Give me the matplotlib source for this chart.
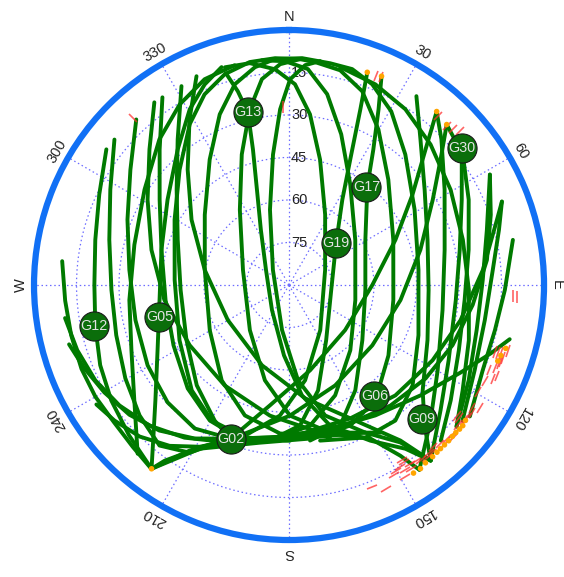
import numpy as np
import matplotlib
matplotlib.use("Agg")
import matplotlib.pyplot as plt
from matplotlib.markers import MarkerStyle
from matplotlib.transforms import Affine2D

plt.rcParams['font.family'] = ['Liberation Sans', 'DejaVu Sans']

# ---- satellite sky tracks: azimuth (deg, clockwise from N) / elevation (deg) ----
v1_az = [276, 266, 257, 248, 240, 232, 224, 217]
v1_el = [9.5, 10.8, 11.1, 11.0, 11.1, 11.5, 10.6, 9.0]
v2_az = [306.6, 295.5, 283.1, 270, 258.0, 247.0, 237.0, 226.7, 216.8]
v2_el = [9.7, 15.8, 19.8, 21.3, 20.1, 17.6, 15.2, 12.5, 9.0]
v3_az = [309.8, 298.1, 284.1, 268.4, 253.8, 240.3, 228.9, 218.9, 210.7, 200.8]
v3_el = [9.8, 18.5, 24.6, 27.3, 26.5, 23.5, 20.0, 17.2, 21.2, 32.0]
v4_az = [317.3, 306.0, 292.0, 275.4, 257.1, 240.4, 226.0, 213.3, 200.8, 185.2, 168.4, 152.7, 144.7, 141.1]
v4_el = [10.5, 20.8, 28.5, 33.4, 34.4, 32.6, 30.4, 29.4, 32.0, 34.9, 35.4, 31.4, 21.9, 10.4]
v5_az = [326.0, 316.3, 303.4, 285.4, 263.0, 242.4, 224.4, 210.3, 197.8, 181.5, 164.0, 146.5, 130.0, 117.0, 108.7, 103.8]
v5_el = [10.1, 23.9, 35.3, 43.3, 46.1, 44.0, 38.9, 34.6, 33.1, 36.5, 37.3, 34.8, 29.4, 22.0, 14.8, 9.8]
v6_az = [331.6, 322.6, 310.3, 292.1, 267.3, 241.7, 222.6, 208.7, 200.8]
v6_el = [10.2, 25.3, 38.0, 47.6, 51.7, 48.9, 41.9, 35.4, 32.0]
h1_az = [342.8, 337.2, 330.5, 320.6, 305.1, 285.4, 263.4, 243.6, 229.2, 222.0, 216.8]
h1_el = [9.5, 13.2, 18.8, 28.1, 37.6, 43.3, 44.0, 38.2, 27.7, 18.5, 9.0]
n1_az = [346.1, 337.7, 328.8, 318.3, 303.4, 284.6, 264.6, 247.5, 233.3, 221.9]
n1_el = [10.1, 11.5, 15.5, 21.2, 28.9, 33.6, 33.4, 29.8, 21.9, 10.0]
a1_az = [179.6, 196.1, 209.7, 222.7, 243.2, 272.5, 299.7, 316.5, 328.3, 336.1, 343.1, 350.0,
         356.5, 362.8, 366.7, 373.4, 380.7, 389.9, 403.3, 426.6, 458.2, 485.3, 503.2, 516.5,
         532.2, 550.5, 568.6, 576.8]
a1_el = [35.1, 34.0, 34.9, 39.4, 46.7, 49.6, 43.5, 33.9, 23.3, 16.4, 12.2, 10.1,
         9.8, 10.2, 10.8, 12.1, 16.9, 26.7, 38.9, 49.9, 52.8, 47.0, 39.1, 35.9,
         35.3, 33.4, 24.2, 9.0]
a2_az = [164.8, 183.5, 198.7, 215.2, 240.3, 280.1, 309.8, 327.7, 337.9, 344.9, 351.1, 356.4,
         363.3, 370.5, 376.3, 382.5, 390.5, 401.7, 419.0, 443.4, 471.2, 489.1, 501.9, 513.4, 528.7]
a2_el = [34.6, 37.5, 41.4, 48.8, 57.8, 59.8, 51.3, 37.6, 25.0, 16.6, 12.2, 10.1,
         9.8, 10.4, 10.6, 13.3, 18.9, 28.3, 38.3, 44.0, 41.0, 33.8, 29.2, 29.8, 34.0]
n2_az = [13.2, 23.3, 33.5, 45.2, 59.5, 75.4, 91.6, 107.1, 121.3, 130.2]
n2_el = [11.0, 12.9, 15.6, 19.6, 23.8, 26.6, 26.5, 23.6, 18.3, 12.6]
h4_az = [2.8, -2.3, -7.5, -12.6, -19.9, -33.2, 288.1, 220.9, 194.2, 179.6, 164.4, 148.2]
h4_el = [10.2, 12.0, 16.7, 26.5, 41.0, 58.3, 72.9, 68.9, 55.3, 43.9, 35.9, 28.7]
h5_az = [343.4, 345.2, 346.6, 345.1, 341.4, 333.0, 303.1, 214.2, 184.1, 173.3, 163.7, 152.4, 144.6, 141.1]
h5_el = [12.0, 19.3, 27.4, 40.5, 54.5, 68.1, 80.3, 79.3, 65.1, 50.7, 38.3, 28.0, 19.1, 10.4]
h6_az = [7.9, 4.2, 0.3, -2.9, -7.0, -14.2, -46.8, 188.8, 174.6, 164.5, 152.7]
h6_el = [10.2, 12.2, 17.4, 27.9, 43.6, 62.6, 82.2, 73.9, 56.2, 42.2, 31.4]
k1_az = [-16.4, -10.0, -3.7, 1.7, 7.0, 13.9, 27.2, 67.4, 145.4, 170.4, 184.0, 196.3, 208.8, 215.3, 216.8]
k1_el = [9.9, 10.5, 13.7, 19.1, 29.3, 44.4, 62.1, 76.2, 70.6, 55.9, 43.8, 34.6, 24.5, 14.0, 9.0]
k2_az = [-6.9, -1.0, 5.0, 11.3, 19.1, 31.4, 55.7, 102.8, 136.8, 157.3, 171.5, 187.0, 200.8]
k2_el = [10.1, 11.0, 13.5, 21.3, 33.7, 48.5, 61.7, 66.0, 58.4, 47.8, 39.8, 34.7, 32.0]
k5_az = [23.9, 27.0, 31.9, 38.5, 59.4, 93.8, 127.0, 147.8, 160.0, 172.3]
k5_el = [9.4, 20.4, 33.7, 45.6, 58.7, 63.0, 57.6, 46.1, 37.2, 34.6]
k6_az = [20.2, 22.1, 26.0, 32.0, 48.2, 96.8, 146.1, 164.6, 175.5, 187.0]
k6_el = [10.0, 23.1, 40.7, 54.5, 67.7, 75.0, 66.5, 51.4, 40.3, 34.7]
k7_az = [34.0, 42.1, 54.9, 72.0, 92.1, 111.7, 128.3, 136.0, 141.1]
k7_el = [9.6, 20.8, 31.5, 38.6, 40.7, 37.4, 29.9, 21.1, 10.4]
u2_az = [205.5, 190.6, 173.8, 155.4, 136.1, 117.7, 101.6, 85.6, 72.6, 68.6]
u2_el = [29.1, 34.1, 37.6, 38.2, 35.9, 32.8, 28.2, 21.4, 13.1, 9.3]
u3_az = [194.1, 175.8, 158.2, 139.9, 124.4, 110.2, 96.2, 82.8, 70.8, 61.2]
u3_el = [33.4, 36.4, 36.6, 34.4, 31.6, 28.5, 24.8, 19.6, 14.6, 9.1]
w1_az = [254.9, 247.9, 239.8, 230.9, 221.7, 211.6, 200.8, 187.1, 168.1]
w1_el = [9.6, 12.0, 14.6, 17.4, 21.2, 26.4, 32.0, 35.7, 36.8]
w2_az = [238.2, 232.2, 224.6, 216.6, 208.9, 200.5]
w2_el = [10.0, 12.0, 14.9, 19.3, 24.8, 31.4]
w3_az = [261.6, 252.9, 243.8, 234.6, 224.8, 214.4, 203.9, 190.6]
w3_el = [10.1, 11.8, 13.8, 16.6, 20.1, 24.7, 29.6, 34.1]
d1_az = [323.6, 314.2, 301.1, 284.3, 263.1, 238.8, 212.6, 188.3, 168.1, 152.1, 146.9, 144.8]
d1_el = [9.9, 21.3, 31.7, 39.9, 45.7, 49.0, 47.9, 43.4, 36.8, 28.7, 18.1, 10.2]
d2_az = [336.1, 329.0, 318.7, 303.8, 280.1, 240.2, 198.6, 171.9, 153.9, 144.4, 141.1]
d2_el = [9.4, 21.8, 35.8, 48.6, 59.8, 65.1, 60.1, 49.6, 36.7, 22.5, 10.4]
d3_az = [44.5, 50.4, 59.3, 75.0, 97.7, 125.9, 155.3, 179.6, 198.1, 211.0, 216.8]
d3_el = [10.6, 20.6, 31.0, 42.0, 50.3, 53.7, 51.0, 43.9, 34.1, 21.8, 9.0]
d4_az = [40.4, 45.2, 53.8, 67.0, 90.0, 128.8, 166.1, 189.0, 200.8]
d4_el = [9.6, 22.1, 36.0, 49.2, 60.6, 64.6, 59.0, 47.0, 32.0]
r1_az = [130.2, 118.0, 103.5, 88.5, 74.4, 61.2]
r1_el = [12.6, 18.2, 21.9, 21.6, 17.5, 9.1]
r2_az = [128.0, 114.7, 100.2, 85.8, 75.3, 68.6]
r2_el = [12.3, 17.9, 19.8, 17.9, 13.4, 9.3]
r3_az = [126.0, 113.8, 102.4, 91.3, 78.6]
r3_el = [11.1, 15.3, 15.6, 13.8, 9.4]
r4_az = [141.1, 129.6, 115.3, 95.2, 78.4, 63.7, 51.5]
r4_el = [10.4, 20.6, 27.7, 30.9, 28.5, 22.0, 12.1]
r5_az = [144.8, 133.8, 119.9, 99.3, 77.3, 58.5, 46.3, 40.4]
r5_el = [10.2, 20.8, 29.5, 35.1, 33.7, 25.6, 15.6, 9.6]
r6_az = [135.7, 125.5, 111.0, 94.9, 78.9, 64.6, 53.1, 44.5]
r6_el = [13.3, 19.9, 25.8, 27.8, 25.4, 19.8, 13.3, 10.6]

# ---- low-elevation events ----
slip_az = [148.5, 147.8, 145.8, 150.0, 157.6, 154.5, 136.5, 134.3, 132.4, 130.6, 128.6,
           126.9, 125.1, 122.9, 114.8, 113.7, 108.9, 106.8, 92.8, 93.0, 24.0, 41.4, 44.8,
           46.4, 317.1, 358.1, 144.2, 148.9, 140.2, 138.2, 146.5, 143.0, 141.5, 139.5,
           135.5, 133.0, 129.5, 127.5, 124.0, 110.5, 112.0, 116.0, 119.5, 48.0, 22.5,
           107.8, 109.8, 151.0, 147.0, 147.0, 128.0, 128.0, 108.0, 108.0, 113.0]
slip_el = [14.8, 12.9, 13.8, 14.3, 12.9, 10.3, 12.8, 12.3, 11.8, 11.6, 11.6,
           11.6, 11.2, 9.8, 10.7, 9.9, 10.2, 9.3, 10.9, 9.5, 9.8, 10.7, 11.1,
           10.3, 9.3, 27.3, 13.6, 11.0, 13.0, 13.5, 12.0, 12.5, 11.8, 12.2,
           11.5, 11.0, 12.5, 12.0, 12.2, 11.0, 11.5, 13.0, 13.5, 9.0, 10.0,
           11.5, 10.6, 13.5, 15.5, 16.5, 13.8, 14.8, 12.6, 13.6, 13.2]
flag_az = [20.2, 23.9, 44.5, 40.4, 144.4, 142.5, 140.1, 137.2, 134.3, 131.5, 129.0, 108.4,
           106.3, 146.5, 138.5, 135.8, 132.8, 130.2, 127.5, 110.0, 216.8]
flag_el = [10.0, 9.4, 10.6, 9.6, 10.3, 10.9, 11.0, 11.3, 11.3, 11.4, 11.1, 11.2,
           10.3, 10.4, 11.2, 11.3, 11.4, 11.2, 11.5, 11.6, 9.0]

# ---- current satellite positions ----
sat_names = ['G13', 'G30', 'G17', 'G19', 'G12', 'G05', 'G06', 'G09', 'G02']
sat_az = [346.6, 51.5, 38.2, 48.2, 258.1, 256.1, 142.3, 135.4, 200.8]
sat_el = [27.4, 12.1, 45.8, 67.7, 19.7, 42.9, 40.7, 23.4, 32.0]

az_ticks = list(range(0, 360, 30))
az_labels = ['N', '30', '60', 'E', '120', '150', 'S', '210', '240', 'W', '300', '330']
el_rings = [15, 30, 45, 60, 75]

tracks = [(v1_az, v1_el), (v2_az, v2_el), (v3_az, v3_el), (v4_az, v4_el), (v5_az, v5_el),
          (v6_az, v6_el), (h1_az, h1_el), (n1_az, n1_el), (a1_az, a1_el), (a2_az, a2_el),
          (n2_az, n2_el), (h4_az, h4_el), (h5_az, h5_el), (h6_az, h6_el), (k1_az, k1_el),
          (k2_az, k2_el), (k5_az, k5_el), (k6_az, k6_el), (k7_az, k7_el), (u2_az, u2_el),
          (u3_az, u3_el), (w1_az, w1_el), (w2_az, w2_el), (w3_az, w3_el), (d1_az, d1_el),
          (d2_az, d2_el), (d3_az, d3_el), (d4_az, d4_el), (r1_az, r1_el), (r2_az, r2_el),
          (r3_az, r3_el), (r4_az, r4_el), (r5_az, r5_el), (r6_az, r6_el)]

fig = plt.figure(figsize=(5.64, 5.77), dpi=100)
ax = fig.add_axes([0.0603, 0.0641, 0.9043, 0.8839], projection='polar')
ax.set_theta_zero_location('N')
ax.set_theta_direction(-1)
ax.set_ylim(0, 90)

ax.set_thetagrids(az_ticks, labels=[''] * len(az_ticks))
ax.set_rgrids([90 - e for e in el_rings], labels=[''] * len(el_rings))
ax.grid(True, color='#6c6cff', linestyle=(0, (1.2, 2.2)), linewidth=0.9)
ax.spines['polar'].set_color('#1170f5')
ax.spines['polar'].set_linewidth(4.5)
ax.tick_params(length=0)

# elevation ring labels along the north meridian
for e in el_rings:
    ax.annotate(str(e), xy=(0, 90 - e), xytext=(1.5, 0), textcoords='offset points',
                ha='left', va='center', fontsize=10.5, color='#222222', zorder=2)

# azimuth labels outside the horizon ring
for a, lab in zip(az_ticks, az_labels):
    ax.text(np.deg2rad(a), 94.6, lab, rotation=-a, rotation_mode='anchor',
            ha='center', va='center', fontsize=10.5, color='#222222', clip_on=False)

for taz, tel in tracks:
    ax.plot(np.deg2rad(taz), 90 - np.asarray(tel), color='#007a00', lw=2.8,
            solid_capstyle='round', solid_joinstyle='round', zorder=3)

# short strokes across the track: radial in the north, tangential in the south
for a, e in zip(slip_az, slip_el):
    ang = 90 - a if (a < 90 or a > 270) else -a
    m = MarkerStyle('_', transform=Affine2D().rotate_deg(ang))
    ax.plot(np.deg2rad(a), 90 - e, marker=m, ms=8.5, mew=1.2, color='#ff3030',
            alpha=0.75, zorder=4, linestyle='none')

ax.scatter(np.deg2rad(flag_az), 90 - np.asarray(flag_el), s=16, color='#ffa500',
           edgecolors='none', zorder=4)

ax.scatter(np.deg2rad(sat_az), 90 - np.asarray(sat_el), s=440, color='#0b6e0b',
           edgecolors='#1a1a1a', linewidths=0.8, zorder=5)
for n, a, e in zip(sat_names, sat_az, sat_el):
    ax.text(np.deg2rad(a), 90 - e, n, ha='center', va='center', fontsize=10.3,
            color='#e4e4e4', zorder=6)

fig.savefig('out.png', dpi=100)
